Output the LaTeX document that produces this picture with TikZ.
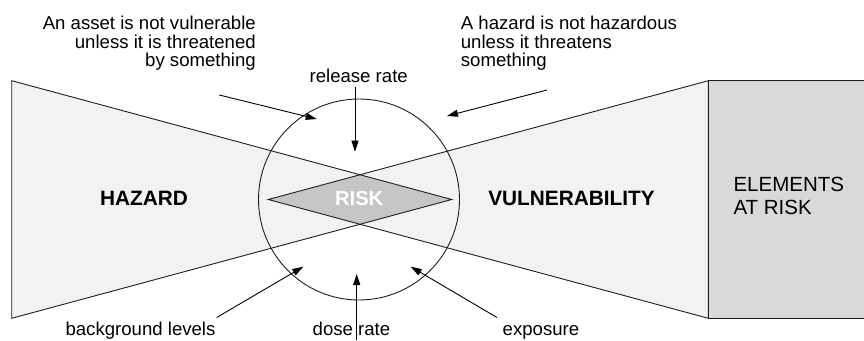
\documentclass[tikz,border=0pt]{standalone}
\usepackage{fontspec}
\setmainfont{Liberation Sans}
\usetikzlibrary{arrows.meta}
\definecolor{lightfill}{HTML}{F2F2F2}
\definecolor{boxfill}{HTML}{D9D9D9}
\definecolor{riskfill}{HTML}{C6C6C6}
\definecolor{edgecol}{HTML}{1E1E1E}
\begin{document}
\begin{tikzpicture}[x=1pt,y=-1pt,
  outline/.style={draw=edgecol, line width=0.9pt, line join=miter},
  pointer/.style={draw=black, line width=0.9pt, -{Triangle[length=11pt,width=7pt]}},
  note/.style={inner sep=0pt, font=\fontsize{18.6}{18.5}\selectfont},
  boldlabel/.style={inner sep=0pt, font=\fontsize{20.8}{24}\selectfont\bfseries},
  ring/.style={circle, draw=edgecol, line width=0.9pt, inner sep=0pt, minimum size=201pt}]
\useasboundingbox (0,0) rectangle (864,340);
% triangle vertices
\coordinate (LT) at (11.7,80.7);
\coordinate (LB) at (11.7,318.3);
\coordinate (LA) at (451.7,199.5);
\coordinate (RT) at (708.3,80.7);
\coordinate (RB) at (708.3,318.3);
\coordinate (RA) at (268.3,199.5);
\coordinate (DT) at (intersection of LT--LA and RT--RA);
\coordinate (DB) at (intersection of LB--LA and RB--RA);
\coordinate (BR1) at (864,80.7);
\coordinate (BR2) at (864,318.3);
% fills
\fill[lightfill] (LT) -- (LA) -- (LB) -- cycle;
\fill[lightfill] (RT) -- (RA) -- (RB) -- cycle;
\fill[boxfill] (RT) rectangle (BR2);
\fill[riskfill] (RA) -- (DT) -- (LA) -- (DB) -- cycle;
% outlines
\draw[outline] (LT) -- (LA) -- (LB) -- cycle;
\draw[outline] (RT) -- (RA) -- (RB) -- cycle;
\draw[outline] (BR1) -- (RT) -- (RB) -- (BR2);
% circle
\node[ring] (circ) at (359,199.5) {};
% labels
\node[boldlabel, anchor=base] (hazard) at (144,205) {HAZARD};
\node[boldlabel, anchor=base] (vuln) at (571.5,205) {VULNERABILITY};
\node[inner sep=0pt, anchor=base, text=white, font=\fontsize{20.2}{24}\selectfont\bfseries] (risk) at (359.2,205) {RISK};
\node[inner sep=0pt, anchor=base west, align=left, font=\fontsize{20.5}{23.3}\selectfont] (elements) at (733.3,214.3) {ELEMENTS\\AT RISK};
% annotations
\node[note, anchor=base east, align=right] (asset) at (256,66.5) {An asset is not vulnerable\\unless it is threatened\\by something};
\node[note, anchor=base west, align=left] (hazardnote) at (460.7,66.5) {A hazard is not hazardous\\unless it threatens\\something};
\node[note, anchor=base] (release) at (358.7,82) {release rate};
\node[note, anchor=base] (background) at (140.5,335.8) {background levels};
\node[note, anchor=base] (dose) at (351.5,335.8) {dose rate};
\node[note, anchor=base] (exposure) at (541,335.8) {exposure};
% arrow end points
\coordinate (assetS) at (219.3,95);
\coordinate (assetE) at (316.7,119);
\coordinate (hazS) at (547,90);
\coordinate (hazE) at (447,116);
\coordinate (relS) at (355,87);
\coordinate (relE) at (355,151.7);
\coordinate (bgS) at (216.7,317.5);
\coordinate (bgE) at (303.3,266.7);
\coordinate (exS) at (497,317.5);
\coordinate (exE) at (410.7,266.7);
\coordinate (doS) at (356.7,340);
\coordinate (doE) at (356.7,274);
% arrows
\draw[pointer] (assetS) -- (assetE);
\draw[pointer] (hazS) -- (hazE);
\draw[pointer] (relS) -- (relE);
\draw[pointer] (bgS) -- (bgE);
\draw[pointer] (exS) -- (exE);
\draw[pointer] (doS) -- (doE);
\end{tikzpicture}
\end{document}
